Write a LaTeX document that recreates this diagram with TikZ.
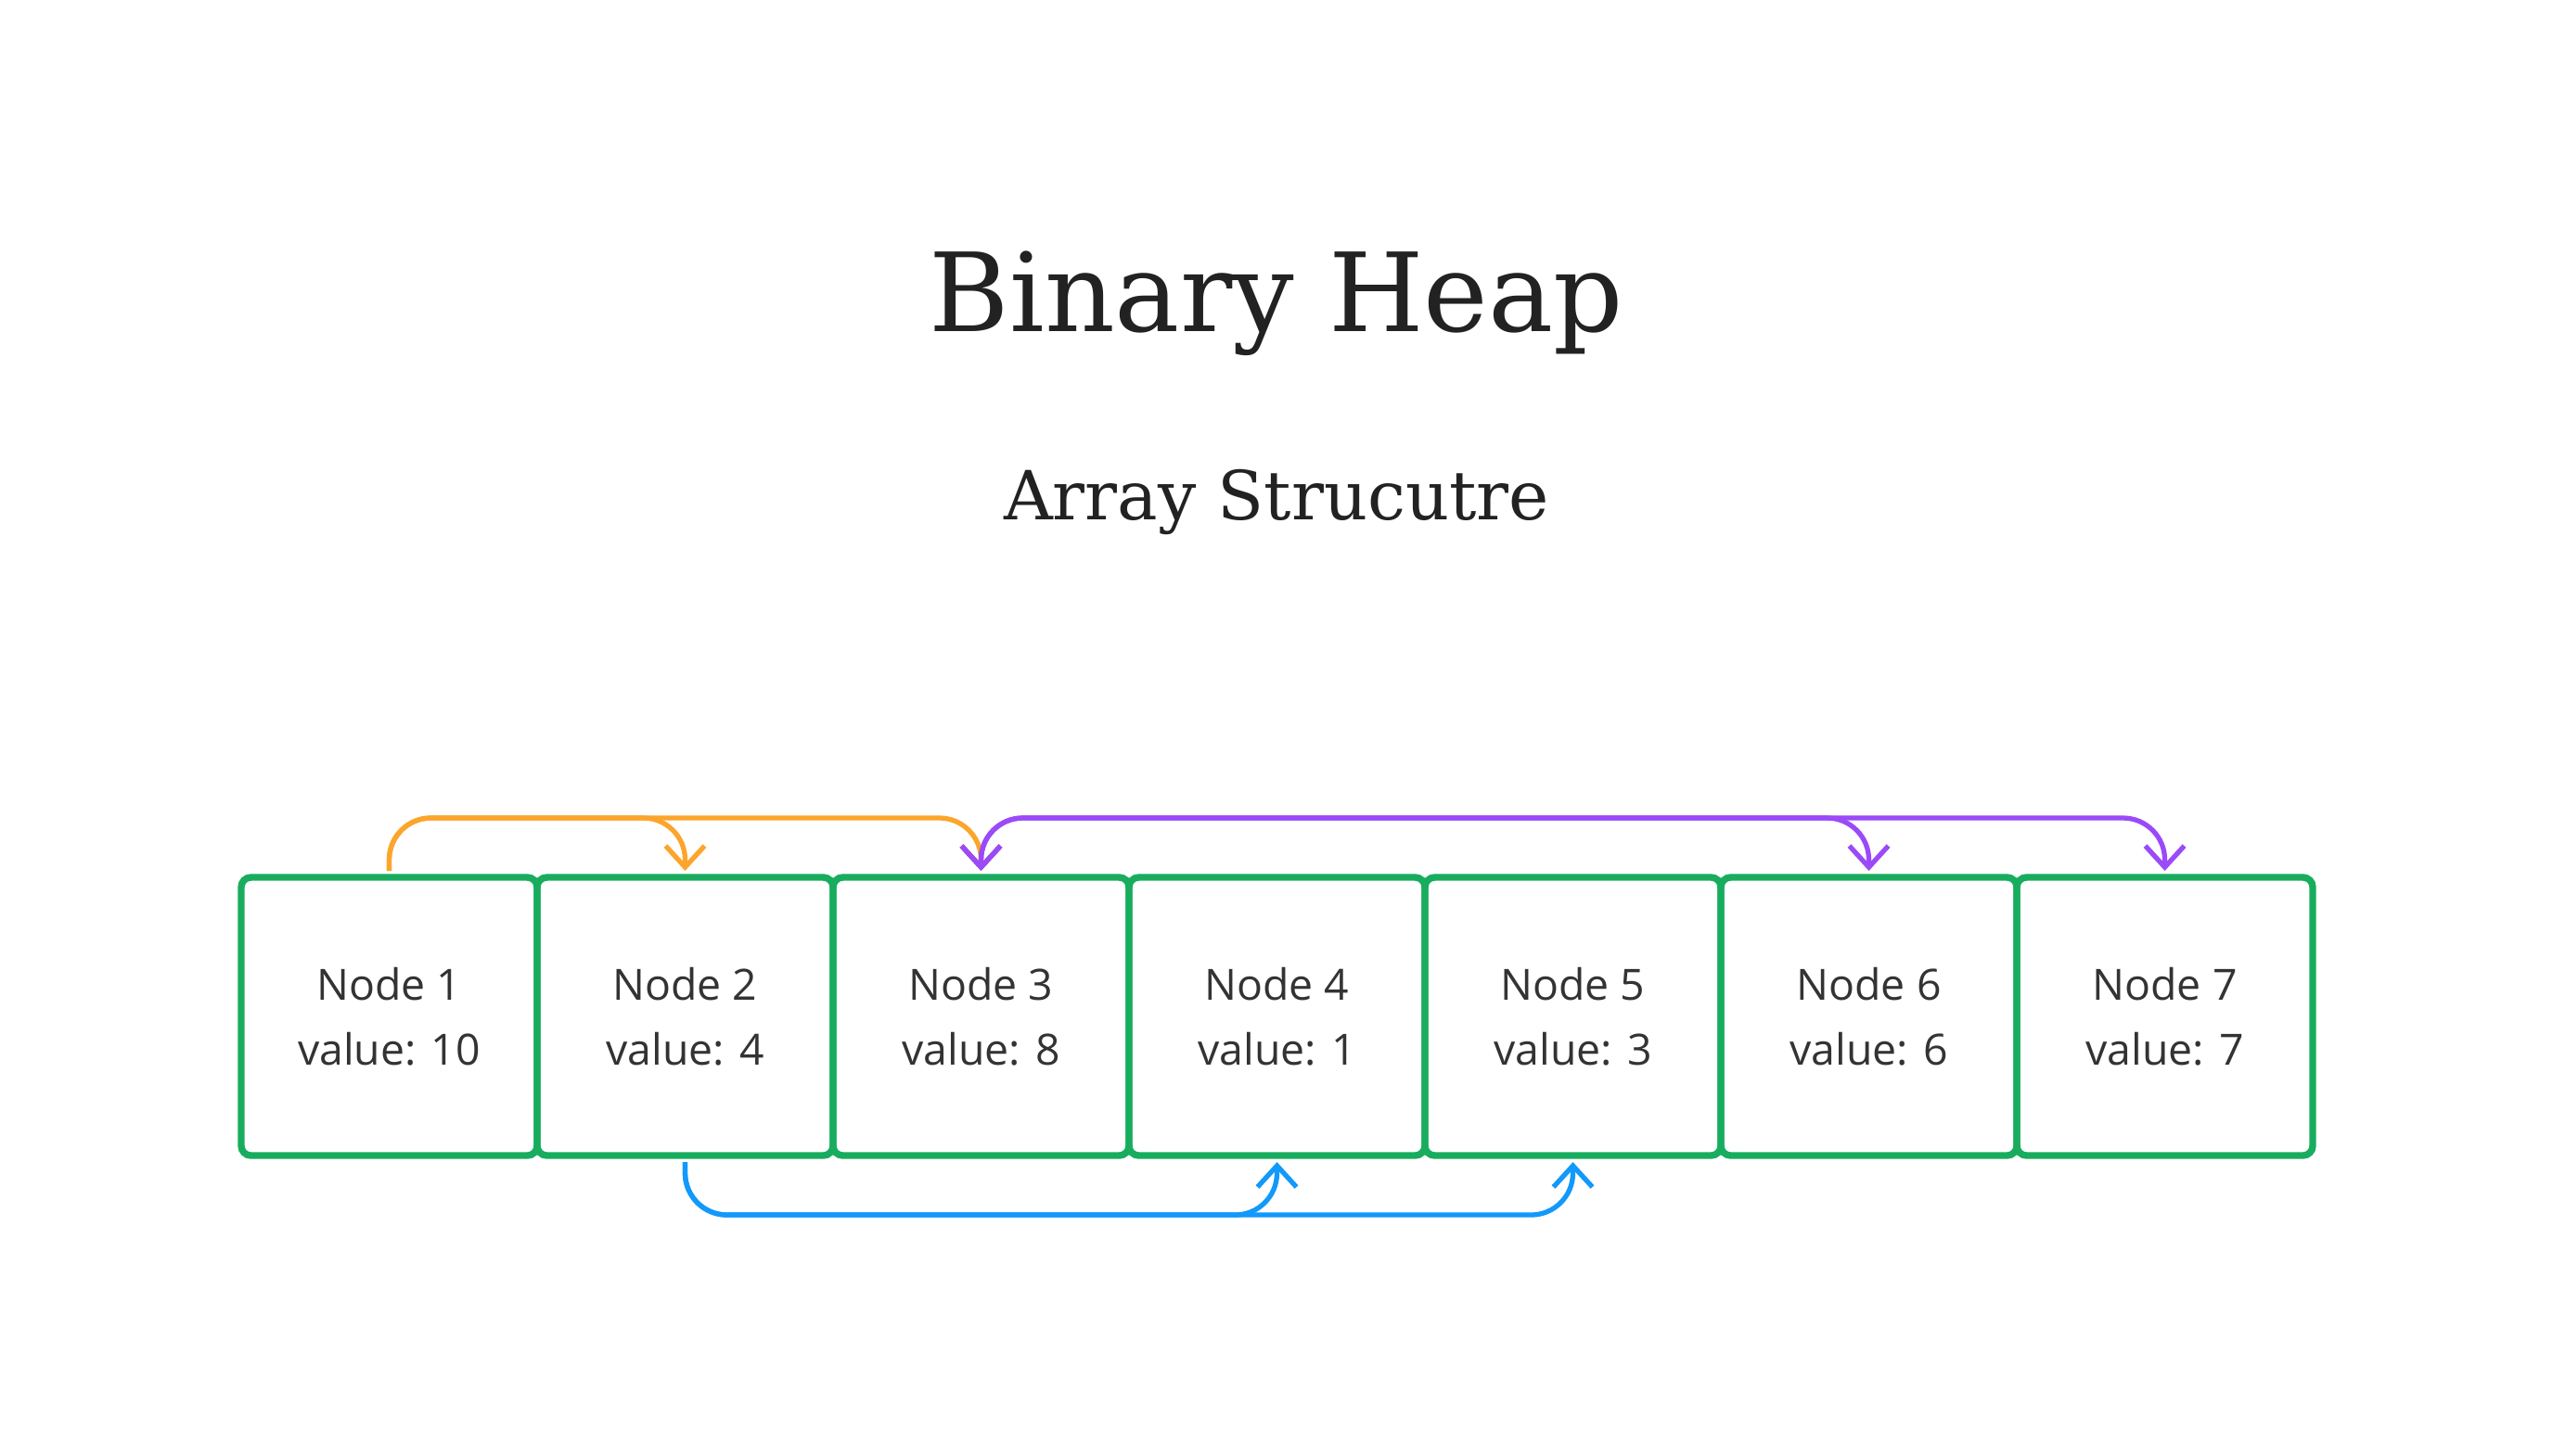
\documentclass[tikz,border=0pt]{standalone}
\usepackage{fontspec}
\setmainfont{DejaVu Serif}
\newfontfamily\cellfont{Open Sans}
\usetikzlibrary{arrows.meta,positioning}

\definecolor{cellgreen}{HTML}{18AD5E}
\definecolor{leftorange}{HTML}{FCA52C}
\definecolor{rightpurple}{HTML}{9B4AF8}
\definecolor{lowblue}{HTML}{1199FB}
\definecolor{textgray}{HTML}{333333}
\definecolor{titlegray}{HTML}{222222}

\begin{document}
\begin{tikzpicture}[node distance=0cm, auto,
  cell/.style={draw=cellgreen, line width=2.1pt, rounded corners=3pt,
    minimum width=3.19cm, minimum height=3cm, inner sep=0pt, outer sep=0pt,
    align=center, text=textgray, font=\cellfont\fontsize{13.2}{20}\selectfont},
  link/.style={line width=1.5pt, rounded corners=0.45cm, shorten >=2pt, shorten <=2pt,
    -{Straight Barb[length=0.23cm,width=0.42cm]}},
  twolink/.style={link, {Straight Barb[length=0.23cm,width=0.42cm]}-{Straight Barb[length=0.23cm,width=0.42cm]}},
]

\fill[white] (0,0) rectangle (27.52,-15.69);
\useasboundingbox (0,0) rectangle (27.52,-15.69);

\node[anchor=base, text=titlegray, font=\fontsize{33.5}{38}\selectfont] (title) at (13.76,-3.57) {Binary Heap};
\node[anchor=base, text=titlegray, font=\fontsize{20.8}{24}\selectfont] (subtitle) at (13.76,-5.60) {Array Strucutre};

\node[cell] (n1) at (4.195,-10.96) {Node 1\\value: 10};
\node[cell, right=of n1] (n2) {Node 2\\value: 4};
\node[cell, right=of n2] (n3) {Node 3\\value: 8};
\node[cell, right=of n3] (n4) {Node 4\\value: 1};
\node[cell, right=of n4] (n5) {Node 5\\value: 3};
\node[cell, right=of n5] (n6) {Node 6\\value: 6};
\node[cell, right=of n6] (n7) {Node 7\\value: 7};

\coordinate (up) at (0,-8.82);
\coordinate (down) at (0,-13.10);

% children of node 1
\draw[link, leftorange] (n1.north) -- (n1.north |- up) -| (n2.north);
\draw[link, leftorange] (n1.north) -- (n1.north |- up) -| (n3.north);

% children of node 3
\draw[twolink, rightpurple] (n3.north) -- (n3.north |- up) -| (n6.north);
\draw[twolink, rightpurple] (n3.north) -- (n3.north |- up) -| (n7.north);

% children of node 2
\draw[link, lowblue] (n2.south) -- (n2.south |- down) -| (n4.south);
\draw[link, lowblue] (n2.south) -- (n2.south |- down) -| (n5.south);

\end{tikzpicture}
\end{document}
